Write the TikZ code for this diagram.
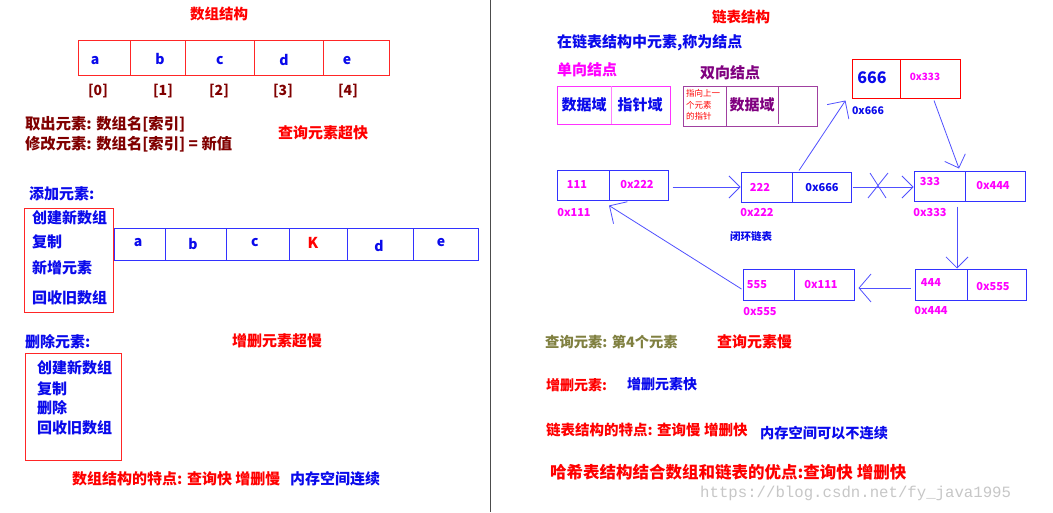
\documentclass[tikz,border=0pt]{standalone}
\usepackage{fontspec}
\setmainfont{Noto Sans CJK SC}
\newfontfamily\wmfont{Liberation Mono}
\usetikzlibrary{arrows.meta}
\definecolor{cred}{RGB}{255,0,0}
\definecolor{cdred}{RGB}{128,0,0}
\definecolor{cblue}{RGB}{10,10,235}
\definecolor{cmag}{RGB}{255,0,255}
\definecolor{cpur}{RGB}{128,0,128}
\definecolor{colive}{RGB}{128,128,64}
\definecolor{clink}{RGB}{80,80,255}
\definecolor{cboxblue}{RGB}{50,50,255}
\tikzset{
  fs/.style={font=\bfseries\fontsize{#1}{#1}\selectfont},
  lt/.style={inner sep=0pt, anchor=west, fs=#1},
  lt/.default=14,
  ct/.style={inner sep=0pt, fs=#1},
  ct/.default=14,
  redbox/.style={draw=cred!85, line width=1pt},
  bluebox/.style={draw=cboxblue, line width=1pt},
  llbox/.style={draw=cboxblue, line width=1pt, inner sep=0pt},
  link/.style={draw=clink, line width=0.8pt, -{Straight Barb[length=11pt,width=22pt,line width=0.8pt]}},
  xline/.style={draw=clink, line width=0.8pt},
}
\begin{document}
\begin{tikzpicture}[x=1pt,y=-1pt]
\useasboundingbox (0,0) rectangle (1053,512);
\fill[white] (0,0) rectangle (1053,512);
% ---------------- left half ----------------
\node[ct=14.5, text=cred] (t1) at (219,14) {数组结构};
\draw[redbox] (78,40) rectangle (389,75);
\foreach \x in {130,185,254,323} \draw[redbox] (\x,40) -- (\x,75);
\node[ct, text=cblue] (a1) at (95,61) {a};
\node[ct, text=cblue] (b1) at (160,59) {b};
\node[ct, text=cblue] (c1) at (220,61) {c};
\node[ct, text=cblue] (d1) at (284,60) {d};
\node[ct, text=cblue] (e1) at (347,61) {e};
\node[ct, text=cdred] (i0) at (98,91) {[0]};
\node[ct, text=cdred] (i1) at (163,91) {[1]};
\node[ct, text=cdred] (i2) at (219,91) {[2]};
\node[ct, text=cdred] (i3) at (283,91) {[3]};
\node[ct, text=cdred] (i4) at (348,91) {[4]};
\node[lt=15.3, text=cdred] (take) at (25,124) {取出元素: 数组名[索引]};
\node[lt=15.3, text=cdred] (modify) at (25,144) {修改元素: 数组名[索引] = 新值};
\node[ct=15, text=cred] (fast) at (323,133) {查询元素超快};
% add
\node[lt=15, text=cblue] (addt) at (29,194) {添加元素:};
\draw[redbox] (24,208) rectangle (113,312);
\node[lt=15, text=cblue] (ad1) at (32,218) {创建新数组};
\node[lt=15, text=cblue] (ad2) at (32,242) {复制};
\node[lt=15, text=cblue] (ad3) at (32,268) {新增元素};
\node[lt=15, text=cblue] (ad4) at (32,298) {回收旧数组};
\draw[bluebox] (114,228) rectangle (478,260);
\foreach \x in {165,226,289,347,413} \draw[bluebox] (\x,228) -- (\x,260);
\node[ct, text=cblue] (a2) at (138,243) {a};
\node[ct, text=cblue] (b2) at (193,244) {b};
\node[ct, text=cblue] (c2) at (255,243) {c};
\node[ct=15, text=cred] (k2) at (313,243) {K};
\node[ct, text=cblue] (d2) at (379,246) {d};
\node[ct, text=cblue] (e2) at (441,243) {e};
% delete
\node[lt=15, text=cblue] (delt) at (25,342) {删除元素:};
\node[ct=15, text=cred] (slow) at (277,341) {增删元素超慢};
\draw[redbox] (25,353) rectangle (121,460);
\node[lt=15, text=cblue] (de1) at (37,368) {创建新数组};
\node[lt=15, text=cblue] (de2) at (37,389) {复制};
\node[lt=15, text=cblue] (de3) at (37,408) {删除};
\node[lt=15, text=cblue] (de4) at (37,428) {回收旧数组};
\node[lt=15, text=cred] (feat1) at (72,479) {数组结构的特点: 查询快 增删慢};
\node[lt=15, text=cblue] (feat1b) at (290,479) {内存空间连续};
% divider
\draw[black!70, line width=1pt] (490,0) -- (490,512);
% ---------------- right half ----------------
\node[ct=14.5, text=cred] (t2) at (741,17) {链表结构};
\node[lt=15, text=cblue] (def) at (557,43) {在链表结构中元素,称为结点};
\node[lt=15, text=cmag] (single) at (557,70) {单向结点};
\draw[draw=cmag!80, line width=1pt] (557,86) rectangle (670,124);
\draw[draw=cmag!50, line width=1pt] (611,86) -- (611,124);
\node[ct=15, text=cblue] (sd) at (584,105) {数据域};
\node[ct=15, text=cblue] (sp) at (640,105) {指针域};
\node[lt=15, text=cpur] (double) at (700,73) {双向结点};
\draw[draw=cpur!75, line width=1pt] (683,86) rectangle (817,126);
\draw[draw=cpur!75, line width=1pt] (726,86) -- (726,126) (778,86) -- (778,124);
\node[inner sep=0pt, anchor=west, align=left, text=cred, font=\fontsize{8.5}{11.5}\selectfont] (prevp) at (686,105) {指向上一\\个元素\\的指针};
\node[ct=15, text=cpur] (dd) at (752,105) {数据域};
% node 666
\node[draw=cred, line width=1pt, minimum width=108, minimum height=39, inner sep=0pt] (n666) at (906,78.5) {};
\draw[cred, line width=1pt] (900,59) -- (900,98);
\node[ct=16, text=cblue] at (872,78) {666};
\node[ct=10, text=cmag] at (925,77) {0x333};
\node[ct=10.5, text=cblue] (l666) at (868,111) {0x666};
% linked list nodes
\node[llbox, minimum width=111, minimum height=30] (n111) at (612.5,185) {};
\node[llbox, minimum width=110, minimum height=30] (n222) at (796,187) {};
\node[llbox, minimum width=111, minimum height=30] (n333) at (969.5,186) {};
\node[llbox, minimum width=111, minimum height=31] (n444) at (970.5,284.5) {};
\node[llbox, minimum width=111, minimum height=31] (n555) at (798.5,284.5) {};
\draw[cboxblue, line width=1pt] (609,170) -- (609,200) (792,172) -- (792,202) (965,171) -- (965,201)
  (967,269) -- (967,300) (794,269) -- (794,300);
\node[ct=11, text=cmag] at (577,185) {111};
\node[ct=11, text=cmag] at (637,185) {0x222};
\node[ct=11, text=cmag] at (760,187) {222};
\node[ct=11, text=cblue] at (822,188) {0x666};
\node[ct=11, text=cmag] at (930,182) {333};
\node[ct=11, text=cmag] at (993,186) {0x444};
\node[ct=11, text=cmag] at (931,283) {444};
\node[ct=11, text=cmag] at (993,287) {0x555};
\node[ct=11, text=cmag] at (757,285) {555};
\node[ct=11, text=cmag] at (821,285) {0x111};
\node[ct=11, text=cmag] (l111) at (574,213) {0x111};
\node[ct=11, text=cmag] (l222) at (757,213) {0x222};
\node[ct=11, text=cmag] (l333) at (930,213) {0x333};
\node[ct=11, text=cmag] (l444) at (931,311) {0x444};
\node[ct=11, text=cmag] (l555) at (760,312) {0x555};
\node[ct=10.5, text=cblue] (ring) at (751,237) {闭环链表};
% connectors
\draw[link] ([xshift=4pt,yshift=-2pt]n111.east) -- (n222.west);
\draw[link] ([xshift=1pt]n222.east) -- (n333.west |- n222.east);
\draw[xline] (870,173) -- (886,198) (888,173) -- (868,198);
\draw[link] ([xshift=-12.5pt,yshift=-5pt]n333.south) -- ([xshift=-13.5pt]n444.north);
\draw[link, -{Straight Barb[length=12pt,width=28pt,line width=0.8pt]}] ([xshift=-4pt,yshift=-3.5pt]n444.west) -- ([xshift=4pt,yshift=-3.5pt]n555.east);
\draw[link, -{Straight Barb[length=13pt,width=26pt,line width=0.8pt]}] ([xshift=-1pt,yshift=-4.5pt]n555.west) -- ([xshift=-3.5pt,yshift=-5pt]n111.south);
\draw[link, -{Straight Barb[length=13pt,width=26pt,line width=0.8pt]}] ([xshift=3pt,yshift=1pt]n222.north) -- ([xshift=-6pt,yshift=-2pt]n666.south west);
\draw[link] ([xshift=28pt,yshift=-2pt]n666.south) -- ([xshift=-10.5pt,yshift=2pt]n333.north);
% bottom right texts
\node[lt=14.3, text=colive] (q1) at (545,342) {查询元素: 第4个元素};
\node[lt=15, text=cred] (q2) at (717,342) {查询元素慢};
\node[lt, text=cred] (m1) at (546,385) {增删元素:};
\node[lt, text=cblue] (m2) at (627,384) {增删元素快};
\node[lt=14.5, text=cred] (f2) at (546,430) {链表结构的特点: 查询慢 增删快};
\node[lt=14.2, text=cblue] (f2b) at (760,433) {内存空间可以不连续};
\node[lt=16.5, text=cred] (hash) at (550,472) {哈希表结构结合数组和链表的优点:查询快 增删快};
\node[inner sep=0pt, anchor=west, text=black!22, font=\wmfont\fontsize{15.7}{16}\selectfont] (wm) at (700,493) {https://blog.csdn.net/fy\_java1995};
\end{tikzpicture}
\end{document}
